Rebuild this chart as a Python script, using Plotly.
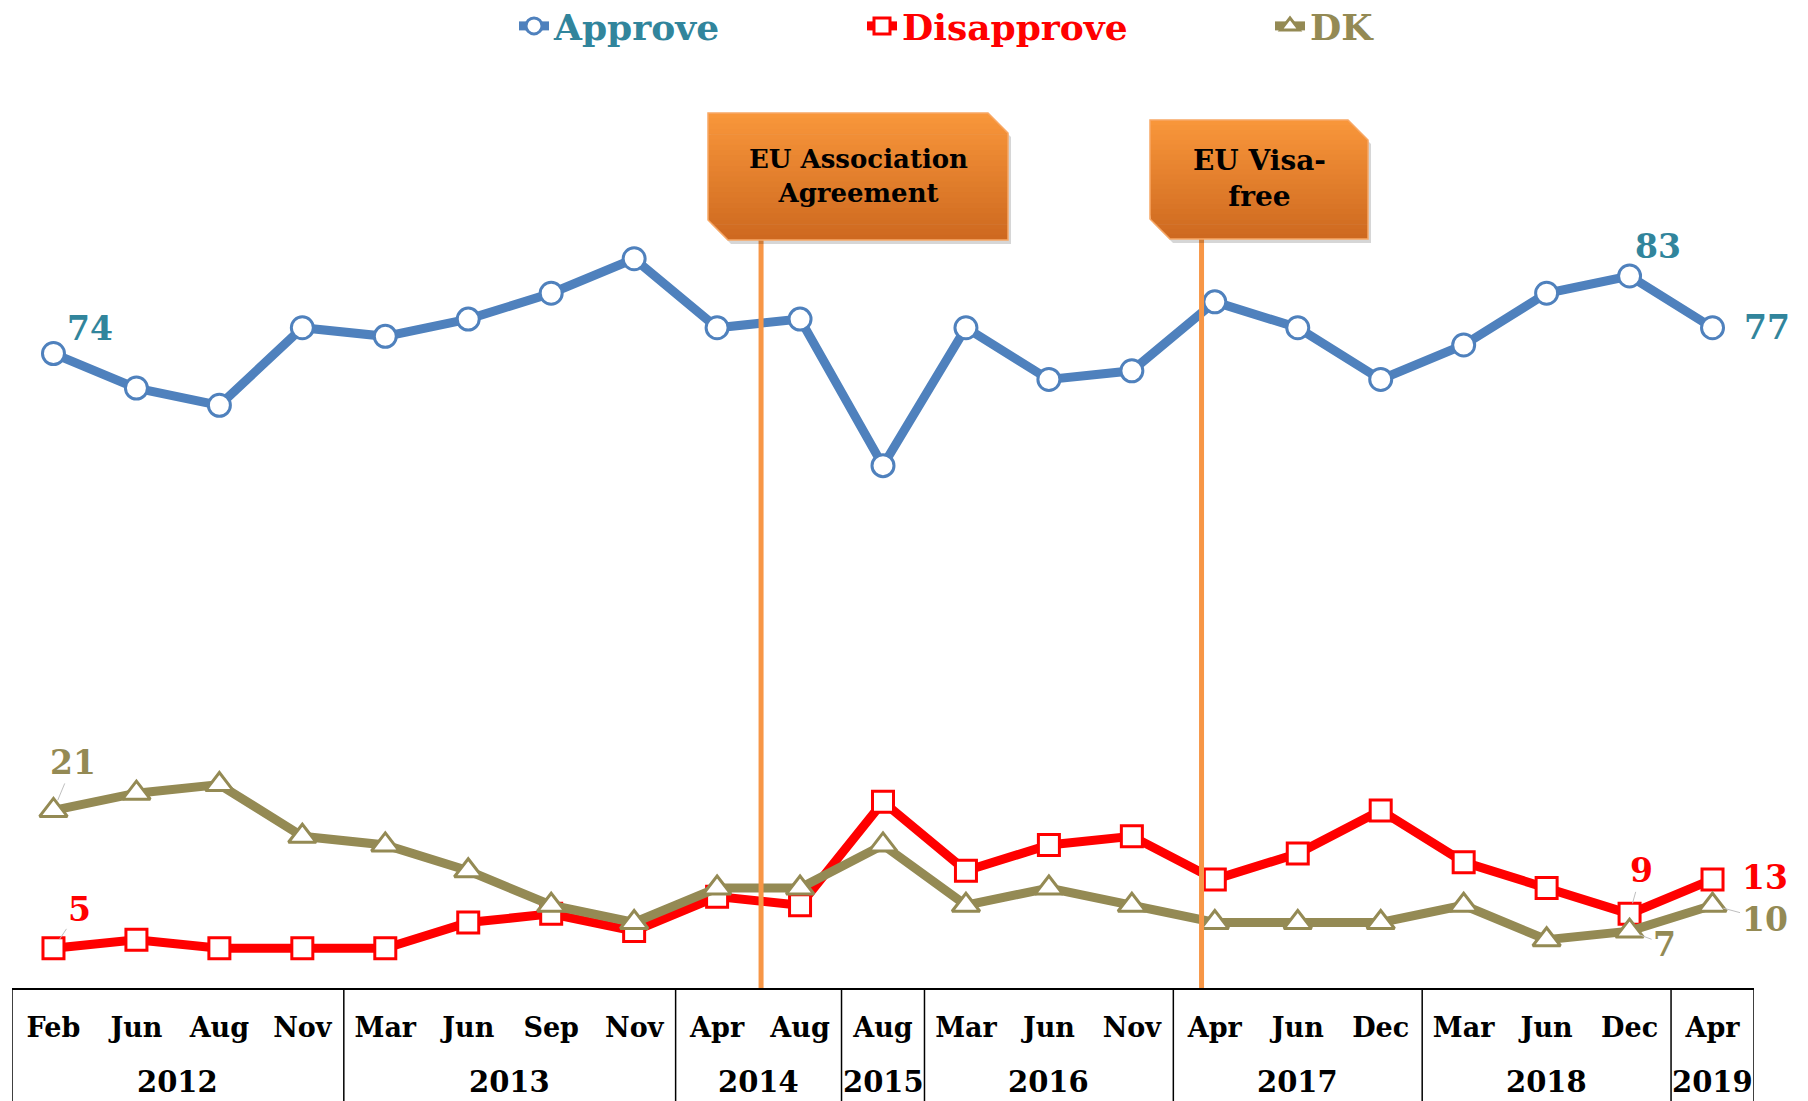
import plotly.graph_objects as go

# ---------------- data ----------------
months = ["Feb", "Jun", "Aug", "Nov", "Mar", "Jun", "Sep", "Nov", "Apr", "Aug",
          "Aug", "Mar", "Jun", "Nov", "Apr", "Jun", "Dec", "Mar", "Jun", "Dec", "Apr"]
point_years = [2012] * 4 + [2013] * 4 + [2014] * 2 + [2015] + [2016] * 3 + [2017] * 3 + [2018] * 3 + [2019]
categories = [f"{m} {y}" for m, y in zip(months, point_years)]

approve = [74, 70, 68, 77, 76, 78, 81, 85, 77, 78, 61, 77, 71, 72, 80, 77, 71, 75, 81, 83, 77]
disapprove = [5, 6, 5, 5, 5, 8, 9, 7, 11, 10, 22, 14, 17, 18, 13, 16, 21, 15, 12, 9, 13]
dk = [21, 23, 24, 18, 17, 14, 10, 8, 12, 12, 17, 10, 12, 10, 8, 8, 8, 10, 6, 7, 10]

series_names = ["Approve", "Disapprove", "DK"]
event_labels = ["EU Association<br>Agreement", "EU Visa-<br>free"]
event_positions = [8.53, 13.84]  # position on category axis

# ---------------- layout constants ----------------
OFF = 0                      # body margin removed via post_script
W, H = 1808 - OFF, 1101 - OFF
ML, MT = 12 - OFF, 60 - OFF
PW, PH = 1742, 928
MR = W - ML - PW
MB = H - MT - PH

def fx(px):  # page pixel -> paper x
    return (px - OFF - ML) / PW

def fy(py):  # page pixel -> paper y
    return (MT + PH - (py - OFF)) / PH

BLUE = "#4F81BD"
TEAL = "#31859C"
RED = "#FF0000"
OLIVE = "#948A54"
ORANGE = "#F79646"
SERIF = "DejaVu Serif"

fig = go.Figure()

styles = [
    dict(color=BLUE, symbol="circle", size=22, legend="legend"),
    dict(color=RED, symbol="square", size=21, legend="legend2"),
    dict(color=OLIVE, symbol="triangle-up", size=24, legend="legend3"),
]
for name, vals, st in zip(series_names, [approve, disapprove, dk], styles):
    fig.add_trace(go.Scatter(
        x=categories, y=vals, name=name, mode="lines+markers",
        line=dict(color=st["color"], width=9),
        marker=dict(symbol=st["symbol"], size=st["size"], color="white",
                    line=dict(color=st["color"], width=3)),
        legend=st["legend"], cliponaxis=False,
    ))

# ---------------- data labels ----------------
label_font = dict(family=SERIF, size=33, weight="bold")
# (values, index, color, dx, dy, leader)
label_specs = [
    (approve, 0, TEAL, 37, -25, False),
    (approve, 19, TEAL, 28, -30, False),
    (approve, 20, TEAL, 54, 0, False),
    (dk, 0, OLIVE, 20, -48, True),
    (disapprove, 0, RED, 26, -39, True),
    (disapprove, 19, RED, 12, -43, True),
    (disapprove, 20, RED, 52, -2, False),
    (dk, 20, OLIVE, 52, 14, True),
    (dk, 19, OLIVE, 35, 13, True),
]
annotations = []
for vals, i, col, dx, dy, leader in label_specs:
    if leader:
        annotations.append(dict(
            x=categories[i], y=vals[i], xref="x", yref="y", text=str(vals[i]),
            showarrow=True, ax=dx, ay=dy, arrowhead=0, arrowwidth=1,
            arrowcolor="#BFBFBF", standoff=11,
            font=dict(color=col, **label_font)))
    else:
        annotations.append(dict(
            x=categories[i], y=vals[i], xref="x", yref="y", text=str(vals[i]),
            showarrow=False, xshift=dx, yshift=-dy,
            font=dict(color=col, **label_font)))

# ---------------- year row of the table ----------------
year_list = []
for y in point_years:
    if y not in year_list:
        year_list.append(y)
shapes = []
boundaries = [-0.5]
for y in year_list:
    idx = [i for i, v in enumerate(point_years) if v == y]
    center = (idx[0] + idx[-1]) / 2
    boundaries.append(idx[-1] + 0.5)
    annotations.append(dict(
        x=center, y=fy(1082), xref="x", yref="paper", text=str(y),
        showarrow=False, yanchor="middle",
        font=dict(family=SERIF, size=29, color="black", weight="bold")))
for b in boundaries:
    shapes.append(dict(type="line", xref="x", yref="paper", x0=b, x1=b,
                       y0=0, y1=fy(1115), line=dict(color="black", width=1.5)))

# ---------------- event lines and callout boxes ----------------
for pos in event_positions:
    shapes.append(dict(type="line", xref="x", yref="paper", x0=pos, x1=pos,
                       y0=0, y1=fy(238), line=dict(color=ORANGE, width=5),
                       layer="above"))

boxes = [(708, 1008, 113, 240, 20, 26), (1150, 1368, 120, 239, 20, 28)]
TOP_C = (249, 151, 59)
BOT_C = (205, 104, 31)

def path_of(pts):
    return "M " + " L ".join(f"{fx(x):.6f},{fy(y):.6f}" for x, y in pts) + " Z"

for (L, R, T, B, c, fsize), text in zip(boxes, event_labels):
    def outline(dx=0, dy=0):
        return [(L + dx, T + dy), (R - c + dx, T + dy), (R + dx, T + c + dy),
                (R + dx, B + dy), (L + c + dx, B + dy), (L + dx, B - c + dy)]
    shapes.append(dict(type="path", xref="paper", yref="paper", path=path_of(outline(3, 4)),
                       fillcolor="rgba(0,0,0,0.16)", line=dict(width=0), layer="above"))

    def left(y):
        return L if y <= B - c else L + (y - (B - c))

    def right(y):
        return R - c + (y - T) if y <= T + c else R

    n = 24
    ys = sorted(set([T + (B - T) * k / n for k in range(n + 1)] + [T + c, B - c]))
    for ya, yb in zip(ys[:-1], ys[1:]):
        t = ((ya + yb) / 2 - T) / (B - T)
        col = "rgb(%d,%d,%d)" % tuple(round(a + (b - a) * t) for a, b in zip(TOP_C, BOT_C))
        yb2 = min(yb + 0.7, B)
        pts = [(left(ya), ya), (right(ya), ya), (right(yb2), yb2), (left(yb2), yb2)]
        shapes.append(dict(type="path", xref="paper", yref="paper", path=path_of(pts),
                           fillcolor=col, line=dict(width=0), layer="above"))
    shapes.append(dict(type="path", xref="paper", yref="paper", path=path_of(outline()),
                       line=dict(color="#F8A866", width=1.5), layer="above"))
    annotations.append(dict(
        x=fx((L + R) / 2), y=fy((T + B) / 2 - 1), xref="paper", yref="paper",
        text=text, showarrow=False, xanchor="center", yanchor="middle",
        font=dict(family=SERIF, size=fsize, color="black", weight="bold")))

# ---------------- layout ----------------
legend_common = dict(orientation="h", yanchor="middle", y=fy(26), xanchor="left",
                     bgcolor="rgba(0,0,0,0)", borderwidth=0)
fig.update_layout(
    width=W, height=H,
    margin=dict(l=ML, r=MR, t=MT, b=MB, pad=0, autoexpand=False),
    paper_bgcolor="white", plot_bgcolor="white",
    showlegend=True,
    legend=dict(x=fx(514), font=dict(family=SERIF, size=36, color=TEAL, weight="bold"), **legend_common),
    legend2=dict(x=fx(862), font=dict(family=SERIF, size=36, color=RED, weight="bold"), **legend_common),
    legend3=dict(x=fx(1270), font=dict(family=SERIF, size=36, color=OLIVE, weight="bold"), **legend_common),
    xaxis=dict(type="category", categoryorder="array", categoryarray=categories,
               tickvals=categories, ticktext=months, range=[-0.5, len(categories) - 0.5],
               showline=True, linecolor="black", linewidth=2, ticks="",
               showgrid=False, zeroline=False, ticklabelstandoff=15,
               tickfont=dict(family=SERIF, size=27, color="black", weight="bold")),
    yaxis=dict(range=[0.4, 108.06], visible=False, showgrid=False, zeroline=False),
    shapes=shapes,
    annotations=annotations,
)

fig.write_html("out.html",
               config={"displayModeBar": False},
               post_script="document.body.style.margin='0';document.body.style.overflow='hidden';")
